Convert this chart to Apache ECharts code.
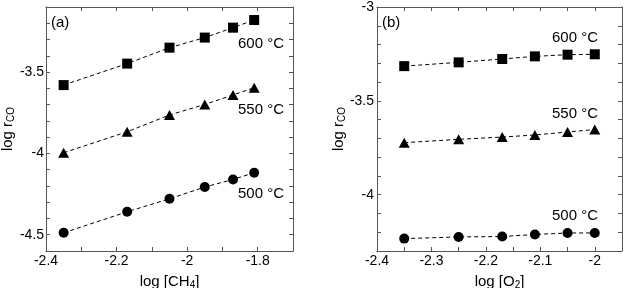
<!DOCTYPE html>
<html>
<head>
<meta charset="utf-8">
<script src="https://cdn.jsdelivr.net/npm/echarts@6/dist/echarts.min.js"></script>
<style>
html,body{margin:0;padding:0;background:#fff;}
#c{width:625px;height:288px;}
</style>
</head>
<body>
<div id="c"></div>
<script>
// Panel (a): log rCO vs log [CH4]
const xA = [-2.35, -2.17, -2.05, -1.95, -1.87, -1.81];
const a600 = [-3.58, -3.448, -3.35, -3.288, -3.227, -3.18];
const a550 = [-3.996, -3.867, -3.764, -3.699, -3.641, -3.596];
const a500 = [-4.488, -4.359, -4.279, -4.207, -4.16, -4.119];
// Panel (b): log rCO vs log [O2]
const xB = [-2.35, -2.25, -2.17, -2.11, -2.05, -2.0];
const b600 = [-3.315, -3.295, -3.277, -3.263, -3.254, -3.252];
const b550 = [-3.723, -3.705, -3.693, -3.682, -3.666, -3.653];
const b500 = [-4.234, -4.225, -4.223, -4.212, -4.204, -4.204];
const tempLabels = ['600 °C', '550 °C', '500 °C'];
const panelLabels = ['(a)', '(b)'];

const FONT = '"Liberation Sans", Arial, sans-serif';
const FRAME = '#555';

function fmt(step) {
  return function (v) {
    const k = Math.round(v / step);
    return Math.abs(v - k * step) < 1e-6 ? String(+v.toFixed(2)) : '';
  };
}
function zip(xs, ys) { return xs.map((x, i) => [x, ys[i]]); }

const nameRich = {
  n: { fontSize: 15, fontFamily: FONT, color: '#000', verticalAlign: 'top' },
  sub: { fontSize: 10, fontFamily: FONT, color: '#000', verticalAlign: 'bottom', padding: [6, 0, 0, 0] }
};

function xAxisPair(grid, min, max, interval, labelStep, nameStr) {
  return [
    {
      type: 'value', gridIndex: grid, position: 'bottom', min: min, max: max, interval: interval,
      axisLine: { show: true, lineStyle: { color: FRAME, width: 1 } },
      axisTick: { show: true, inside: true, length: 4, lineStyle: { color: FRAME } },
      axisLabel: { show: true, margin: 3, color: '#000', fontSize: 14, fontFamily: FONT, formatter: fmt(labelStep) },
      splitLine: { show: false },
      name: nameStr, nameLocation: 'middle', nameGap: 23, nameMoveOverlap: false,
      nameTextStyle: { color: '#000', fontSize: 15, fontFamily: FONT, rich: nameRich }
    },
    {
      type: 'value', gridIndex: grid, position: 'top', min: min, max: max, interval: interval,
      axisLine: { show: true, lineStyle: { color: FRAME, width: 1 } },
      axisTick: { show: true, inside: true, length: 4, lineStyle: { color: FRAME } },
      axisLabel: { show: false }, splitLine: { show: false }
    }
  ];
}
function yAxisPair(grid, min, max, interval, labelStep, nameGap, margin) {
  return [
    {
      type: 'value', gridIndex: grid, position: 'left', min: min, max: max, interval: interval,
      axisLine: { show: true, lineStyle: { color: FRAME, width: 1 } },
      axisTick: { show: true, inside: true, length: 4, lineStyle: { color: FRAME } },
      axisLabel: { show: true, margin: margin, color: '#000', fontSize: 14, fontFamily: FONT, formatter: fmt(labelStep) },
      splitLine: { show: false },
      name: '{n|log r}{sub|CO}', nameLocation: 'middle', nameGap: nameGap, nameRotate: 90, nameMoveOverlap: false,
      nameTextStyle: { color: '#000', fontSize: 15, fontFamily: FONT, rich: nameRich }
    },
    {
      type: 'value', gridIndex: grid, position: 'right', min: min, max: max, interval: interval,
      axisLine: { show: true, lineStyle: { color: FRAME, width: 1 } },
      axisTick: { show: true, inside: true, length: 4, lineStyle: { color: FRAME } },
      axisLabel: { show: false }, splitLine: { show: false }
    }
  ];
}

function ser(xi, yi, data, symbol, size) {
  return {
    type: 'line', xAxisIndex: xi, yAxisIndex: yi, data: data,
    symbol: symbol, symbolSize: size, showSymbol: true,
    itemStyle: { color: '#000' },
    lineStyle: { color: '#000', width: 1, type: [4, 3] },
    silent: true, animation: false
  };
}

const chart = echarts.init(document.getElementById('c'), null, { renderer: 'canvas' });
const textStyle = { fill: '#000', fontSize: 15, fontFamily: FONT };
chart.setOption({
  animation: false,
  backgroundColor: '#fff',
  grid: [
    { left: 46, top: 7, width: 247, height: 244, containLabel: false, outerBoundsMode: 'none' },
    { left: 377, top: 7, width: 245, height: 244, containLabel: false, outerBoundsMode: 'none' }
  ],
  xAxis: [].concat(
    xAxisPair(0, -2.4, -1.7, 0.1, 0.2, '{n|log [CH}{sub|4}{n|]}'),
    xAxisPair(1, -2.4, -1.95, 0.05, 0.1, '{n|log [O}{sub|2}{n|]}')
  ),
  yAxis: [].concat(
    yAxisPair(0, -4.6, -3.1, 0.1, 0.5, 30, 2),
    yAxisPair(1, -4.3, -3.0, 0.1, 0.5, 30, 3)
  ),
  series: [
    ser(0, 0, zip(xA, a600), 'rect', 10),
    ser(0, 0, zip(xA, a550), 'triangle', [11, 10]),
    ser(0, 0, zip(xA, a500), 'circle', 10),
    ser(2, 2, zip(xB, b600), 'rect', 10),
    ser(2, 2, zip(xB, b550), 'triangle', [11, 10]),
    ser(2, 2, zip(xB, b500), 'circle', 10)
  ],
  graphic: [
    { type: 'text', x: 284, y: 44, style: Object.assign({ text: tempLabels[0], align: 'right', verticalAlign: 'middle' }, textStyle) },
    { type: 'text', x: 284, y: 110, style: Object.assign({ text: tempLabels[1], align: 'right', verticalAlign: 'middle' }, textStyle) },
    { type: 'text', x: 284, y: 194, style: Object.assign({ text: tempLabels[2], align: 'right', verticalAlign: 'middle' }, textStyle) },
    { type: 'text', x: 598, y: 38, style: Object.assign({ text: tempLabels[0], align: 'right', verticalAlign: 'middle' }, textStyle) },
    { type: 'text', x: 598, y: 114, style: Object.assign({ text: tempLabels[1], align: 'right', verticalAlign: 'middle' }, textStyle) },
    { type: 'text', x: 598, y: 216, style: Object.assign({ text: tempLabels[2], align: 'right', verticalAlign: 'middle' }, textStyle) },
    { type: 'text', x: 51, y: 23, style: Object.assign({ text: panelLabels[0], align: 'left', verticalAlign: 'middle' }, textStyle) },
    { type: 'text', x: 382, y: 23, style: Object.assign({ text: panelLabels[1], align: 'left', verticalAlign: 'middle' }, textStyle) }
  ]
});
</script>
</body>
</html>
